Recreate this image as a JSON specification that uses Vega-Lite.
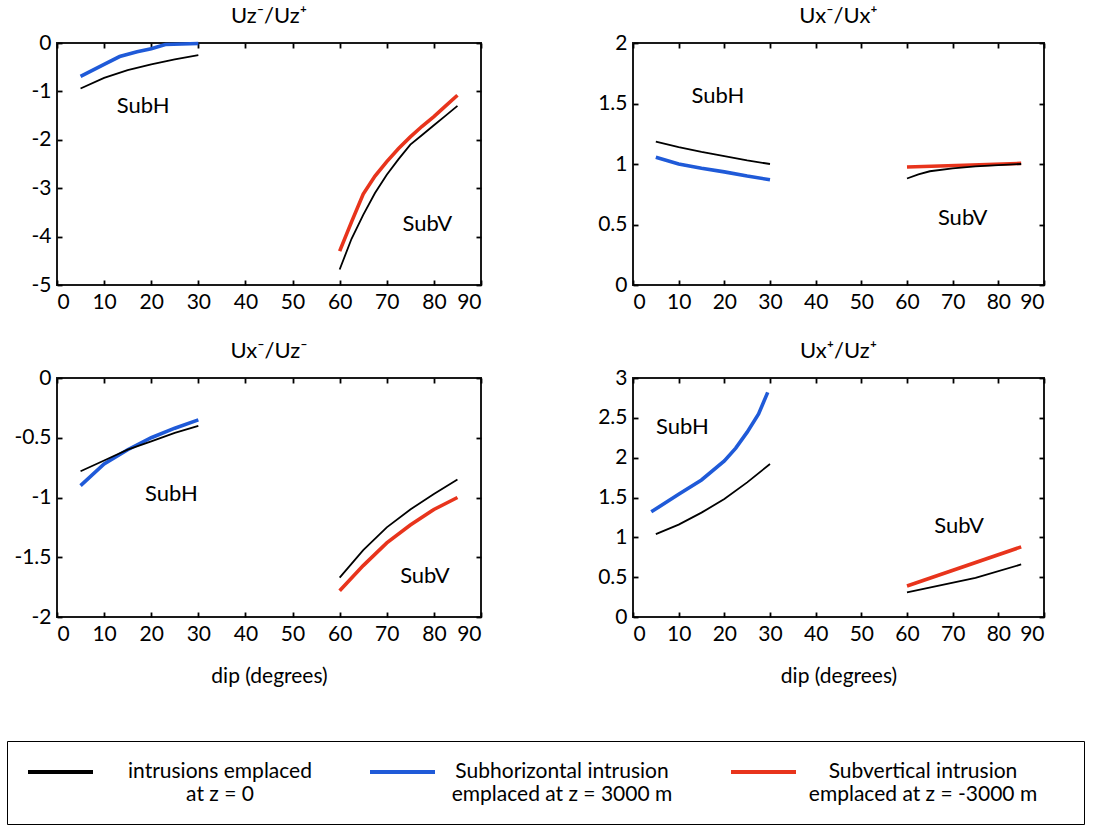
{
  "$schema": "https://vega.github.io/schema/vega-lite/v6.json",
  "background": "white",
  "padding": {"left": 6, "top": 4, "right": 5, "bottom": 0},
  "datasets": {
    "curves": [
      {"panel": "A", "series": "subH", "grp": "H", "dip": 5, "value": -0.69},
      {"panel": "A", "series": "subH", "grp": "H", "dip": 10, "value": -0.44},
      {"panel": "A", "series": "subH", "grp": "H", "dip": 13.3, "value": -0.28},
      {"panel": "A", "series": "subH", "grp": "H", "dip": 17, "value": -0.18},
      {"panel": "A", "series": "subH", "grp": "H", "dip": 20, "value": -0.12},
      {"panel": "A", "series": "subH", "grp": "H", "dip": 23, "value": -0.03},
      {"panel": "A", "series": "subH", "grp": "H", "dip": 30, "value": -0.01},
      {"panel": "A", "series": "subV", "grp": "V", "dip": 60, "value": -4.3},
      {"panel": "A", "series": "subV", "grp": "V", "dip": 62.5, "value": -3.7},
      {"panel": "A", "series": "subV", "grp": "V", "dip": 65, "value": -3.12},
      {"panel": "A", "series": "subV", "grp": "V", "dip": 67.5, "value": -2.75},
      {"panel": "A", "series": "subV", "grp": "V", "dip": 70, "value": -2.45},
      {"panel": "A", "series": "subV", "grp": "V", "dip": 72.5, "value": -2.18},
      {"panel": "A", "series": "subV", "grp": "V", "dip": 75, "value": -1.94},
      {"panel": "A", "series": "subV", "grp": "V", "dip": 77.5, "value": -1.72},
      {"panel": "A", "series": "subV", "grp": "V", "dip": 80, "value": -1.52},
      {"panel": "A", "series": "subV", "grp": "V", "dip": 82.5, "value": -1.3},
      {"panel": "A", "series": "subV", "grp": "V", "dip": 85, "value": -1.08},
      {"panel": "A", "series": "z0", "grp": "H", "dip": 5, "value": -0.94},
      {"panel": "A", "series": "z0", "grp": "H", "dip": 10, "value": -0.72},
      {"panel": "A", "series": "z0", "grp": "H", "dip": 15, "value": -0.56},
      {"panel": "A", "series": "z0", "grp": "H", "dip": 20, "value": -0.44},
      {"panel": "A", "series": "z0", "grp": "H", "dip": 25, "value": -0.34},
      {"panel": "A", "series": "z0", "grp": "H", "dip": 30, "value": -0.25},
      {"panel": "A", "series": "z0", "grp": "V", "dip": 60, "value": -4.68},
      {"panel": "A", "series": "z0", "grp": "V", "dip": 62.5, "value": -4.05},
      {"panel": "A", "series": "z0", "grp": "V", "dip": 65, "value": -3.55},
      {"panel": "A", "series": "z0", "grp": "V", "dip": 67.5, "value": -3.1},
      {"panel": "A", "series": "z0", "grp": "V", "dip": 70, "value": -2.72},
      {"panel": "A", "series": "z0", "grp": "V", "dip": 72.5, "value": -2.4},
      {"panel": "A", "series": "z0", "grp": "V", "dip": 75, "value": -2.1},
      {"panel": "A", "series": "z0", "grp": "V", "dip": 77.5, "value": -1.9},
      {"panel": "A", "series": "z0", "grp": "V", "dip": 80, "value": -1.7},
      {"panel": "A", "series": "z0", "grp": "V", "dip": 82.5, "value": -1.5},
      {"panel": "A", "series": "z0", "grp": "V", "dip": 85, "value": -1.3},

      {"panel": "B", "series": "subH", "grp": "H", "dip": 5, "value": 1.055},
      {"panel": "B", "series": "subH", "grp": "H", "dip": 10, "value": 1.0},
      {"panel": "B", "series": "subH", "grp": "H", "dip": 15, "value": 0.965},
      {"panel": "B", "series": "subH", "grp": "H", "dip": 20, "value": 0.935},
      {"panel": "B", "series": "subH", "grp": "H", "dip": 25, "value": 0.9},
      {"panel": "B", "series": "subH", "grp": "H", "dip": 30, "value": 0.87},
      {"panel": "B", "series": "subV", "grp": "V", "dip": 60, "value": 0.975},
      {"panel": "B", "series": "subV", "grp": "V", "dip": 72.5, "value": 0.99},
      {"panel": "B", "series": "subV", "grp": "V", "dip": 85, "value": 1.005},
      {"panel": "B", "series": "z0", "grp": "H", "dip": 5, "value": 1.185},
      {"panel": "B", "series": "z0", "grp": "H", "dip": 10, "value": 1.14},
      {"panel": "B", "series": "z0", "grp": "H", "dip": 15, "value": 1.1},
      {"panel": "B", "series": "z0", "grp": "H", "dip": 20, "value": 1.065},
      {"panel": "B", "series": "z0", "grp": "H", "dip": 25, "value": 1.03},
      {"panel": "B", "series": "z0", "grp": "H", "dip": 30, "value": 1.0},
      {"panel": "B", "series": "z0", "grp": "V", "dip": 60, "value": 0.88},
      {"panel": "B", "series": "z0", "grp": "V", "dip": 62.5, "value": 0.915},
      {"panel": "B", "series": "z0", "grp": "V", "dip": 65, "value": 0.94},
      {"panel": "B", "series": "z0", "grp": "V", "dip": 70, "value": 0.963},
      {"panel": "B", "series": "z0", "grp": "V", "dip": 75, "value": 0.98},
      {"panel": "B", "series": "z0", "grp": "V", "dip": 80, "value": 0.99},
      {"panel": "B", "series": "z0", "grp": "V", "dip": 85, "value": 1.0},

      {"panel": "C", "series": "subH", "grp": "H", "dip": 5, "value": -0.9},
      {"panel": "C", "series": "subH", "grp": "H", "dip": 10, "value": -0.72},
      {"panel": "C", "series": "subH", "grp": "H", "dip": 15, "value": -0.6},
      {"panel": "C", "series": "subH", "grp": "H", "dip": 20, "value": -0.5},
      {"panel": "C", "series": "subH", "grp": "H", "dip": 25, "value": -0.42},
      {"panel": "C", "series": "subH", "grp": "H", "dip": 30, "value": -0.35},
      {"panel": "C", "series": "subV", "grp": "V", "dip": 60, "value": -1.78},
      {"panel": "C", "series": "subV", "grp": "V", "dip": 65, "value": -1.57},
      {"panel": "C", "series": "subV", "grp": "V", "dip": 70, "value": -1.38},
      {"panel": "C", "series": "subV", "grp": "V", "dip": 75, "value": -1.23},
      {"panel": "C", "series": "subV", "grp": "V", "dip": 80, "value": -1.1},
      {"panel": "C", "series": "subV", "grp": "V", "dip": 85, "value": -1.0},
      {"panel": "C", "series": "z0", "grp": "H", "dip": 5, "value": -0.78},
      {"panel": "C", "series": "z0", "grp": "H", "dip": 10, "value": -0.69},
      {"panel": "C", "series": "z0", "grp": "H", "dip": 15, "value": -0.6},
      {"panel": "C", "series": "z0", "grp": "H", "dip": 20, "value": -0.53},
      {"panel": "C", "series": "z0", "grp": "H", "dip": 25, "value": -0.46},
      {"panel": "C", "series": "z0", "grp": "H", "dip": 30, "value": -0.4},
      {"panel": "C", "series": "z0", "grp": "V", "dip": 60, "value": -1.67},
      {"panel": "C", "series": "z0", "grp": "V", "dip": 65, "value": -1.44},
      {"panel": "C", "series": "z0", "grp": "V", "dip": 70, "value": -1.25},
      {"panel": "C", "series": "z0", "grp": "V", "dip": 75, "value": -1.1},
      {"panel": "C", "series": "z0", "grp": "V", "dip": 80, "value": -0.97},
      {"panel": "C", "series": "z0", "grp": "V", "dip": 85, "value": -0.85},

      {"panel": "D", "series": "subH", "grp": "H", "dip": 4, "value": 1.32},
      {"panel": "D", "series": "subH", "grp": "H", "dip": 10, "value": 1.54},
      {"panel": "D", "series": "subH", "grp": "H", "dip": 15, "value": 1.72},
      {"panel": "D", "series": "subH", "grp": "H", "dip": 20, "value": 1.96},
      {"panel": "D", "series": "subH", "grp": "H", "dip": 22.5, "value": 2.12},
      {"panel": "D", "series": "subH", "grp": "H", "dip": 25, "value": 2.32},
      {"panel": "D", "series": "subH", "grp": "H", "dip": 27.5, "value": 2.55},
      {"panel": "D", "series": "subH", "grp": "H", "dip": 29.5, "value": 2.82},
      {"panel": "D", "series": "subV", "grp": "V", "dip": 60, "value": 0.39},
      {"panel": "D", "series": "subV", "grp": "V", "dip": 85, "value": 0.88},
      {"panel": "D", "series": "z0", "grp": "H", "dip": 5, "value": 1.04},
      {"panel": "D", "series": "z0", "grp": "H", "dip": 10, "value": 1.16},
      {"panel": "D", "series": "z0", "grp": "H", "dip": 15, "value": 1.31},
      {"panel": "D", "series": "z0", "grp": "H", "dip": 20, "value": 1.48},
      {"panel": "D", "series": "z0", "grp": "H", "dip": 25, "value": 1.69},
      {"panel": "D", "series": "z0", "grp": "H", "dip": 30, "value": 1.92},
      {"panel": "D", "series": "z0", "grp": "V", "dip": 60, "value": 0.31},
      {"panel": "D", "series": "z0", "grp": "V", "dip": 75, "value": 0.49},
      {"panel": "D", "series": "z0", "grp": "V", "dip": 85, "value": 0.66}
    ],
    "notes": [
      {"panel": "A", "dip": 18.3, "value": -1.31, "label": "SubH"},
      {"panel": "A", "dip": 78.6, "value": -3.74, "label": "SubV"},
      {"panel": "B", "dip": 18.6, "value": 1.56, "label": "SubH"},
      {"panel": "B", "dip": 72.2, "value": 0.55, "label": "SubV"},
      {"panel": "C", "dip": 24.3, "value": -0.97, "label": "SubH"},
      {"panel": "C", "dip": 78.1, "value": -1.66, "label": "SubV"},
      {"panel": "D", "dip": 10.8, "value": 2.39, "label": "SubH"},
      {"panel": "D", "dip": 71.4, "value": 1.14, "label": "SubV"}
    ]
  },
  "columns": 2,
  "align": "each",
  "spacing": {"row": 26, "column": 101},
  "concat": [
    {
      "title": "Uz⁻/Uz⁺",
      "width": 424,
      "height": 242,
      "resolve": {"axis": {"x": "independent", "y": "independent"}},
      "layer": [
        {
          "data": {"name": "curves"},
          "transform": [{"filter": "datum.panel === 'A' && datum.series !== 'z0'"}],
          "mark": {"type": "line", "strokeWidth": 3.6},
          "encoding": {
            "x": {"field": "dip", "type": "quantitative", "scale": {"domain": [0, 90], "nice": false}, "axis": {"values": [0, 10, 20, 30, 40, 50, 60, 70, 80, 90], "title": null}},
            "y": {"field": "value", "type": "quantitative", "scale": {"domain": [-5, 0], "nice": false, "zero": false}, "axis": {"values": [-5, -4, -3, -2, -1, 0], "title": null}},
            "color": {"field": "series", "type": "nominal", "scale": {"domain": ["z0", "subH", "subV"], "range": ["#000000", "#1f5ad8", "#e8341c"]},
              "legend": {"orient": "none", "legendX": -50, "legendY": 698, "direction": "horizontal", "columns": 3, "title": " ", "titleOrient": "right", "titlePadding": 28, "symbolType": "M-1,0H5.5", "symbolSize": 400, "symbolStrokeWidth": 4, "labelAlign": "center", "labelOffset": 170, "labelBaseline": "middle", "labelFontSize": 21, "labelFont": "Lato", "labelColor": "black", "labelLimit": 400, "columnPadding": 50, "strokeColor": "black", "fillColor": "white", "padding": 19,
                "labelExpr": "datum.value === 'z0' ? ['intrusions emplaced', 'at z = 0'] : datum.value === 'subH' ? ['Subhorizontal intrusion', 'emplaced at z = 3000 m'] : ['Subvertical intrusion', 'emplaced at z = -3000 m']"}},
            "detail": {"field": "grp"}
          }
        },
        {
          "data": {"name": "curves"},
          "transform": [{"filter": "datum.panel === 'A' && datum.series === 'z0'"}],
          "mark": {"type": "line", "strokeWidth": 1.8},
          "encoding": {
            "x": {"field": "dip", "type": "quantitative", "scale": {"domain": [0, 90], "nice": false}, "axis": null},
            "y": {"field": "value", "type": "quantitative", "scale": {"domain": [-5, 0], "nice": false, "zero": false}, "axis": null},
            "color": {"field": "series", "type": "nominal"},
            "detail": {"field": "grp"}
          }
        },
        {
          "data": {"name": "notes"},
          "transform": [{"filter": "datum.panel === 'A'"}],
          "mark": {"type": "text", "fontSize": 22, "color": "black"},
          "encoding": {
            "x": {"field": "dip", "type": "quantitative", "scale": {"domain": [0, 90], "nice": false}, "axis": {"orient": "top", "labels": false, "title": null, "minExtent": 0, "maxExtent": 0, "values": [0, 10, 20, 30, 40, 50, 60, 70, 80, 90]}},
            "y": {"field": "value", "type": "quantitative", "scale": {"domain": [-5, 0], "nice": false, "zero": false}, "axis": {"orient": "right", "labels": false, "title": null, "minExtent": 0, "maxExtent": 0, "values": [-5, -4, -3, -2, -1, 0]}},
            "text": {"field": "label"}
          }
        }
      ]
    },
    {
      "title": "Ux⁻/Ux⁺",
      "width": 411,
      "height": 242,
      "resolve": {"axis": {"x": "independent", "y": "independent"}},
      "layer": [
        {
          "data": {"name": "curves"},
          "transform": [{"filter": "datum.panel === 'B' && datum.series !== 'z0'"}],
          "mark": {"type": "line", "strokeWidth": 3.6},
          "encoding": {
            "x": {"field": "dip", "type": "quantitative", "scale": {"domain": [0, 90], "nice": false}, "axis": {"values": [0, 10, 20, 30, 40, 50, 60, 70, 80, 90], "title": null}},
            "y": {"field": "value", "type": "quantitative", "scale": {"domain": [0, 2], "nice": false}, "axis": {"values": [0, 0.5, 1, 1.5, 2], "title": null}},
            "color": {"field": "series", "type": "nominal"},
            "detail": {"field": "grp"}
          }
        },
        {
          "data": {"name": "curves"},
          "transform": [{"filter": "datum.panel === 'B' && datum.series === 'z0'"}],
          "mark": {"type": "line", "strokeWidth": 1.8},
          "encoding": {
            "x": {"field": "dip", "type": "quantitative", "scale": {"domain": [0, 90], "nice": false}, "axis": null},
            "y": {"field": "value", "type": "quantitative", "scale": {"domain": [0, 2], "nice": false}, "axis": null},
            "color": {"field": "series", "type": "nominal"},
            "detail": {"field": "grp"}
          }
        },
        {
          "data": {"name": "notes"},
          "transform": [{"filter": "datum.panel === 'B'"}],
          "mark": {"type": "text", "fontSize": 22, "color": "black"},
          "encoding": {
            "x": {"field": "dip", "type": "quantitative", "scale": {"domain": [0, 90], "nice": false}, "axis": {"orient": "top", "labels": false, "title": null, "minExtent": 0, "maxExtent": 0, "values": [0, 10, 20, 30, 40, 50, 60, 70, 80, 90]}},
            "y": {"field": "value", "type": "quantitative", "scale": {"domain": [0, 2], "nice": false}, "axis": {"orient": "right", "labels": false, "title": null, "minExtent": 0, "maxExtent": 0, "values": [0, 0.5, 1, 1.5, 2]}},
            "text": {"field": "label"}
          }
        }
      ]
    },
    {
      "title": "Ux⁻/Uz⁻",
      "width": 424,
      "height": 239,
      "resolve": {"axis": {"x": "independent", "y": "independent"}},
      "layer": [
        {
          "data": {"name": "curves"},
          "transform": [{"filter": "datum.panel === 'C' && datum.series !== 'z0'"}],
          "mark": {"type": "line", "strokeWidth": 3.6},
          "encoding": {
            "x": {"field": "dip", "type": "quantitative", "scale": {"domain": [0, 90], "nice": false}, "axis": {"values": [0, 10, 20, 30, 40, 50, 60, 70, 80, 90], "title": "dip (degrees)"}},
            "y": {"field": "value", "type": "quantitative", "scale": {"domain": [-2, 0], "nice": false, "zero": false}, "axis": {"values": [-2, -1.5, -1, -0.5, 0], "title": null}},
            "color": {"field": "series", "type": "nominal"},
            "detail": {"field": "grp"}
          }
        },
        {
          "data": {"name": "curves"},
          "transform": [{"filter": "datum.panel === 'C' && datum.series === 'z0'"}],
          "mark": {"type": "line", "strokeWidth": 1.8},
          "encoding": {
            "x": {"field": "dip", "type": "quantitative", "scale": {"domain": [0, 90], "nice": false}, "axis": null},
            "y": {"field": "value", "type": "quantitative", "scale": {"domain": [-2, 0], "nice": false, "zero": false}, "axis": null},
            "color": {"field": "series", "type": "nominal"},
            "detail": {"field": "grp"}
          }
        },
        {
          "data": {"name": "notes"},
          "transform": [{"filter": "datum.panel === 'C'"}],
          "mark": {"type": "text", "fontSize": 22, "color": "black"},
          "encoding": {
            "x": {"field": "dip", "type": "quantitative", "scale": {"domain": [0, 90], "nice": false}, "axis": {"orient": "top", "labels": false, "title": null, "minExtent": 0, "maxExtent": 0, "values": [0, 10, 20, 30, 40, 50, 60, 70, 80, 90]}},
            "y": {"field": "value", "type": "quantitative", "scale": {"domain": [-2, 0], "nice": false, "zero": false}, "axis": {"orient": "right", "labels": false, "title": null, "minExtent": 0, "maxExtent": 0, "values": [-2, -1.5, -1, -0.5, 0]}},
            "text": {"field": "label"}
          }
        }
      ]
    },
    {
      "title": "Ux⁺/Uz⁺",
      "width": 411,
      "height": 239,
      "resolve": {"axis": {"x": "independent", "y": "independent"}},
      "layer": [
        {
          "data": {"name": "curves"},
          "transform": [{"filter": "datum.panel === 'D' && datum.series !== 'z0'"}],
          "mark": {"type": "line", "strokeWidth": 3.6},
          "encoding": {
            "x": {"field": "dip", "type": "quantitative", "scale": {"domain": [0, 90], "nice": false}, "axis": {"values": [0, 10, 20, 30, 40, 50, 60, 70, 80, 90], "title": "dip (degrees)"}},
            "y": {"field": "value", "type": "quantitative", "scale": {"domain": [0, 3], "nice": false}, "axis": {"values": [0, 0.5, 1, 1.5, 2, 2.5, 3], "title": null}},
            "color": {"field": "series", "type": "nominal"},
            "detail": {"field": "grp"}
          }
        },
        {
          "data": {"name": "curves"},
          "transform": [{"filter": "datum.panel === 'D' && datum.series === 'z0'"}],
          "mark": {"type": "line", "strokeWidth": 1.8},
          "encoding": {
            "x": {"field": "dip", "type": "quantitative", "scale": {"domain": [0, 90], "nice": false}, "axis": null},
            "y": {"field": "value", "type": "quantitative", "scale": {"domain": [0, 3], "nice": false}, "axis": null},
            "color": {"field": "series", "type": "nominal"},
            "detail": {"field": "grp"}
          }
        },
        {
          "data": {"name": "notes"},
          "transform": [{"filter": "datum.panel === 'D'"}],
          "mark": {"type": "text", "fontSize": 22, "color": "black"},
          "encoding": {
            "x": {"field": "dip", "type": "quantitative", "scale": {"domain": [0, 90], "nice": false}, "axis": {"orient": "top", "labels": false, "title": null, "minExtent": 0, "maxExtent": 0, "values": [0, 10, 20, 30, 40, 50, 60, 70, 80, 90]}},
            "y": {"field": "value", "type": "quantitative", "scale": {"domain": [0, 3], "nice": false}, "axis": {"orient": "right", "labels": false, "title": null, "minExtent": 0, "maxExtent": 0, "values": [0, 0.5, 1, 1.5, 2, 2.5, 3]}},
            "text": {"field": "label"}
          }
        }
      ]
    }
  ],
  "resolve": {"scale": {"color": "shared"}, "legend": {"color": "shared"}},
  "config": {
    "font": "Lato",
    "view": {"stroke": "#1a1a1a", "strokeWidth": 2},
    "text": {"font": "Lato"},
    "line": {"strokeCap": "butt"},
    "axis": {
      "domain": false,
      "grid": false,
      "ticks": true,
      "tickColor": "black",
      "tickSize": 5,
      "tickWidth": 1.8,
      "offset": -5,
      "labelFont": "Lato",
      "labelFontSize": 21,
      "labelColor": "black",
      "labelPadding": 6,
      "labelExpr": "toString(datum.value)",
      "titleFont": "Lato",
      "titleFontSize": 21,
      "titleFontWeight": "normal",
      "titleColor": "black",
      "titlePadding": 21
    },
    "axisY": {"minExtent": 53, "maxExtent": 53},
    "title": {"font": "Lato", "fontSize": 22, "fontWeight": "normal", "color": "black", "offset": 4, "anchor": "middle", "frame": "group"}
  }
}
